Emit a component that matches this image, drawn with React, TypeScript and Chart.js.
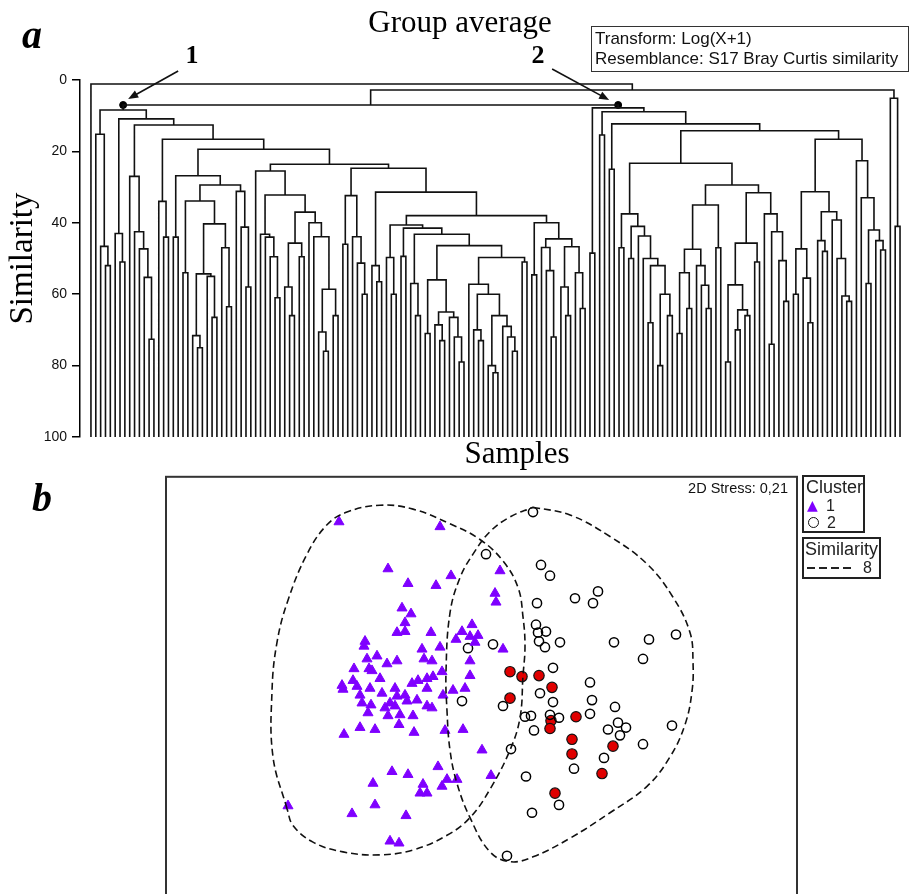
import React, { useEffect, useRef } from 'react';
import { Chart, registerables } from 'chart.js';

Chart.register(...registerables);

const SERIF = '"Liberation Serif", "Times New Roman", serif';
const SANS = '"Liberation Sans", Arial, sans-serif';

// ---------------- Panel a: group-average dendrogram ----------------
// Sub-trees written as (left,right)similarity ; L = one sample
const yTicks = [0, 20, 40, 60, 80, 100];

const c1P = '(L,(L,(L,L)52)46.6)15.2';
const c1R = '(L,(L,L)51)43';
const c1T = '(L,(L,(L,(L,(L,L)72.6)55.3)47.3)42.5)27';
const c1V = '(L,(L,L)44)34';
const c1X = '((L,L)44,(((L,L)54,(((L,(L,L)75)71.6,(L,(L,L)66.5)55)54.3,(L,(L,L)63.5)47)40.3)33.9,(L,(L,(L,L)58)41.2)31.2)29.4)26.8';
const c1Y = '(L,((L,(L,(L,(L,L)61)49.5)44)43.2,(((L,(L,L)66)58,(L,L)49.5)45.7,(L,(L,((L,(L,L)76)70.6,(L,L)66)58.6)43.9)40)37)32.2)25.5';
const c1Z = '((L,L)46,(L,(L,(L,L)60)51.3)43.9)32.4';
const c1Z2a = '(L,(L,L)56.5)52';
const c1N56 = '((L,L)71,((L,(L,L)73)68.6,(L,(L,(L,L)79)72)66.5)65)56';
const c1N57 = '(L,((L,(L,L)73)70,((L,(L,L)82)80,(L,(L,(L,L)76)72)69)66)60)57.2';
const c1N40 = '((L,L)54.6,((L,(L,(L,L)72)53.4)46.9,((L,(L,L)66)58,(L,(L,L)64)54)46.7)44.5)40';

const c2A = '(L,L)48.5';
const c2B = '(L,L)15.4';
const c2C = '(L,L)25';
const c2D = '((L,L)47,((L,L)50,(L,(L,((L,L)68,((L,L)80,(L,L)66)60)52)50)43.7)41)37.5';
const c2E = '((((L,L)71,(L,L)64)54,(L,(L,(L,L)64)57.5)52)47.4,(L,L)47)35';
const c2F = '((((L,L)79,((L,L)70,(L,L)66)64.4)57.4,(L,L)51)45.7,(L,((L,L)74,(L,(L,L)62)50.6)42.5)37.5)31.6';
const c2G = '(((L,L)60,(L,(L,L)68)55.5)47.3,((L,(L,L)48)45,(L,(L,(L,(L,L)62)60.5)50)39.2)36.9)31.3';
const c2H = '(L,(L,((L,L)57,(L,(L,L)47.6)45)42)33)22.6';

const outlierRight = '(L,(L,L)41)5.1';

const c1Z2 = `(${c1Z2a},(((L,(L,L)60)49.7,((L,L)49.4,((L,(L,L)66)57,(${c1N56},(${c1N57},(L,L)51)49.7)46.4)43.2)41.5)40.6,${c1N40})38)31.4`;
const cluster1 = `(${c1P},(${c1R},(${c1T},(${c1V},(${c1X},(${c1Y},(${c1Z},${c1Z2})24.7)23.6)19.4)16.6)12.6)10.9)8.4`;
const cluster2 = `(${c2A},(${c2B},(${c2C},((${c2D},(${c2E},${c2F})29.4)23.3,(${c2G},${c2H})16.6)14.2)12.3)8.9)7.8`;
const fullTree = `(L,((${cluster1},${cluster2})7,${outlierRight})2.8)1.1`;

type TNode = { x: number; h: number; l?: TNode; r?: TNode };

function buildTree(src: string) {
  let i = 0;
  let leaf = 0;
  const segs: { x: number; y: number | null }[] = [];
  const parse = (): TNode => {
    if (src[i] === 'L') {
      i++;
      return { x: leaf++, h: 100 };
    }
    i++; // (
    const l = parse();
    i++; // ,
    const r = parse();
    i++; // )
    let j = i;
    while (j < src.length && /[0-9.]/.test(src[j])) j++;
    const h = parseFloat(src.slice(i, j));
    i = j;
    segs.push({ x: l.x, y: l.h }, { x: l.x, y: h }, { x: r.x, y: h }, { x: r.x, y: r.h }, { x: r.x, y: null });
    return { x: (l.x + r.x) / 2, h, l, r };
  };
  const root = parse();
  return { root, segs, leaves: leaf };
}

// ---------------- Panel b: nMDS ordination ----------------
const cluster1Points: [number, number][] = [
  [-1.41, 1.80], [-0.40, 1.75], [-0.92, 1.32], [-0.72, 1.17], [-0.44, 1.15], [-0.29, 1.25],
  [0.20, 1.30], [0.15, 1.07], [0.16, 0.98], [-0.78, 0.92], [-0.69, 0.86], [-0.75, 0.77],
  [-0.83, 0.67], [-0.75, 0.68], [-0.49, 0.67], [-0.18, 0.68], [-0.08, 0.75], [-0.24, 0.60],
  [-0.10, 0.63], [-0.02, 0.64], [-0.05, 0.57], [-1.15, 0.58], [-1.16, 0.53], [-0.58, 0.50],
  [-0.40, 0.52], [0.23, 0.50], [-1.03, 0.43], [-1.13, 0.40], [-1.26, 0.30], [-1.11, 0.30],
  [-0.93, 0.35], [-0.83, 0.38], [-0.56, 0.40], [-0.48, 0.38], [-0.10, 0.38], [-0.38, 0.27],
  [-1.08, 0.28], [-1.00, 0.20], [-1.27, 0.18], [-1.38, 0.13], [-1.37, 0.09], [-1.23, 0.12],
  [-1.10, 0.10], [-1.20, 0.03], [-0.85, 0.10], [-0.68, 0.15], [-0.62, 0.18], [-0.53, 0.20],
  [-0.47, 0.22], [-0.53, 0.10], [-0.10, 0.23], [-0.27, 0.08], [-0.15, 0.10], [-0.37, 0.03],
  [-0.98, 0.05], [-0.83, 0.02], [-0.73, -0.03], [-0.63, -0.02], [-0.53, -0.08], [-0.48, -0.10],
  [-1.18, -0.05], [-1.09, -0.07], [-1.12, -0.15], [-0.90, -0.05], [-0.85, -0.08], [-0.92, -0.18],
  [-0.95, -0.10], [-0.80, -0.17], [-0.81, -0.27], [-0.67, -0.18], [-1.20, -0.30], [-1.05, -0.32],
  [-1.36, -0.37], [-0.66, -0.35], [-0.35, -0.33], [-0.17, -0.32], [0.02, -0.53], [-0.42, -0.70],
  [-0.88, -0.75], [-0.72, -0.78], [-1.07, -0.87], [-0.57, -0.88], [-0.60, -0.97], [-0.53, -0.97],
  [-0.38, -0.90], [-0.33, -0.83], [-0.23, -0.83], [0.11, -0.79], [-1.92, -1.10], [-1.28, -1.18],
  [-1.05, -1.09], [-0.74, -1.20], [-0.90, -1.46], [-0.81, -1.48], [-0.75, 0.03],
];

const cluster2Points: [number, number][] = [
  [0.53, 1.90], [0.06, 1.47], [0.61, 1.36], [0.70, 1.25], [0.95, 1.02], [1.18, 1.09],
  [1.13, 0.97], [0.57, 0.97], [0.56, 0.75], [0.58, 0.67], [0.66, 0.68], [0.59, 0.58],
  [0.65, 0.52], [0.80, 0.57], [1.34, 0.57], [1.69, 0.60], [1.96, 0.65], [1.63, 0.40],
  [0.13, 0.55], [-0.12, 0.51], [0.73, 0.31], [1.10, 0.16], [0.60, 0.05], [0.73, -0.04],
  [1.12, -0.02], [-0.18, -0.03], [0.23, -0.08], [1.35, -0.09], [0.45, -0.19], [0.51, -0.18],
  [0.70, -0.17], [0.79, -0.20], [1.10, -0.16], [0.54, -0.33], [1.28, -0.32], [1.38, -0.25],
  [1.46, -0.30], [1.40, -0.38], [1.92, -0.28], [1.63, -0.47], [0.31, -0.52], [1.24, -0.61],
  [0.94, -0.72], [0.46, -0.80], [0.79, -1.09], [0.52, -1.17], [0.27, -1.61],
];

const highlightedPoints: [number, number][] = [
  [0.30, 0.27], [0.42, 0.22], [0.59, 0.23], [0.72, 0.11], [0.30, 0.00], [0.71, -0.23],
  [0.70, -0.31], [0.96, -0.19], [0.92, -0.42], [0.92, -0.57], [1.33, -0.49], [1.22, -0.77],
  [0.75, -0.97],
];

const contour1: [number, number][] = [
  [-1.93, -1.13], [-2.07, -0.60], [-2.08, 0.07], [-2.03, 0.57], [-1.92, 1.00], [-1.73, 1.47],
  [-1.53, 1.77], [-1.33, 1.90], [-1.00, 1.97], [-0.67, 1.93], [-0.30, 1.78], [0.00, 1.62],
  [0.23, 1.40], [0.38, 1.13], [0.43, 0.83], [0.45, 0.53], [0.43, 0.23], [0.40, -0.20],
  [0.30, -0.53], [0.10, -0.93], [-0.10, -1.22], [-0.33, -1.40], [-0.67, -1.55], [-1.00, -1.60],
  [-1.37, -1.57], [-1.67, -1.47], [-1.87, -1.30],
];

const contour2: [number, number][] = [
  [0.53, 1.95], [0.90, 1.87], [1.30, 1.65], [1.67, 1.37], [1.93, 1.03], [2.10, 0.67],
  [2.13, 0.37], [2.12, 0.07], [2.05, -0.27], [1.90, -0.60], [1.67, -0.90], [1.30, -1.17],
  [0.90, -1.43], [0.53, -1.62], [0.30, -1.67], [0.10, -1.57], [-0.10, -1.22], [-0.23, -0.87],
  [-0.30, -0.53], [-0.33, -0.13], [-0.34, 0.27], [-0.30, 0.87], [-0.20, 1.23], [-0.07, 1.47],
  [0.10, 1.70], [0.30, 1.85],
];

const toXY = (a: [number, number][]) => a.map(([x, y]) => ({ x, y }));
const closed = (a: [number, number][]) => toXY([...a, a[0]]);

const arrowOffsets = [
  [55, -34, 5, -6],
  [-66, -36, -9, -5],
];

const arrowPlugin = {
  id: 'clusterArrows',
  afterDatasetsDraw(chart: any) {
    const meta = chart.getDatasetMeta(1);
    const ctx = chart.ctx;
    ctx.save();
    ctx.strokeStyle = '#111';
    ctx.fillStyle = '#111';
    ctx.lineWidth = 1.6;
    arrowOffsets.forEach((o, k) => {
      const p = meta.data[k];
      if (!p) return;
      const x1 = p.x + o[0], y1 = p.y + o[1], x2 = p.x + o[2], y2 = p.y + o[3];
      const ang = Math.atan2(y2 - y1, x2 - x1);
      const c = Math.cos(ang), s = Math.sin(ang);
      ctx.beginPath();
      ctx.moveTo(x1, y1);
      ctx.lineTo(x2 - 6 * c, y2 - 6 * s);
      ctx.stroke();
      ctx.beginPath();
      ctx.moveTo(x2, y2);
      ctx.lineTo(x2 - 10 * c + 4 * s, y2 - 10 * s - 4 * c);
      ctx.lineTo(x2 - 10 * c - 4 * s, y2 - 10 * s + 4 * c);
      ctx.closePath();
      ctx.fill();
    });
    ctx.restore();
  },
};

const framePlugin = {
  id: 'plotFrame',
  afterDatasetsDraw(chart: any) {
    const { ctx, chartArea: a } = chart;
    ctx.save();
    ctx.strokeStyle = '#333';
    ctx.lineWidth = 2;
    ctx.strokeRect(a.left, a.top, a.right - a.left, a.bottom - a.top);
    ctx.restore();
  },
};

const abs = (s: React.CSSProperties): React.CSSProperties => ({ position: 'absolute', whiteSpace: 'nowrap', ...s });

export default function App() {
  const refA = useRef<HTMLCanvasElement>(null);
  const refB = useRef<HTMLCanvasElement>(null);

  useEffect(() => {
    const tree = buildTree(fullTree);
    const nodeB = tree.root.r!.l!;
    const dots = [
      { x: nodeB.l!.x, y: nodeB.h },
      { x: nodeB.r!.x, y: nodeB.h },
    ];
    const chartA = new Chart(refA.current!, {
      type: 'scatter',
      data: {
        datasets: [
          {
            data: tree.segs as any,
            showLine: true,
            spanGaps: false,
            borderColor: '#111',
            borderWidth: 1.6,
            pointRadius: 0,
            pointHoverRadius: 0,
          },
          {
            data: dots,
            pointRadius: 3.5,
            backgroundColor: '#000',
            borderColor: '#000',
          },
        ],
      },
      options: {
        animation: false,
        responsive: false,
        devicePixelRatio: 1,
        events: [],
        layout: { padding: { top: 80, bottom: 33, left: 0, right: 2 } },
        plugins: { legend: { display: false }, tooltip: { enabled: false } },
        scales: {
          x: { type: 'linear', display: false, min: -2.26, max: tree.leaves - 1 + 1.44 },
          y: {
            type: 'linear',
            min: 0,
            max: 100,
            reverse: true,
            afterFit: (s: any) => {
              s.width = 80;
            },
            afterBuildTicks: (s: any) => {
              s.ticks = yTicks.map((v) => ({ value: v }));
            },
            ticks: { font: { family: SANS, size: 14 }, color: '#111', padding: 5 },
            grid: { drawOnChartArea: false, drawTicks: true, tickLength: 8, color: '#000', lineWidth: 1.5 },
            border: { display: true, color: '#000', width: 1.5 },
            title: {
              display: true,
              text: 'Similarity',
              color: '#000',
              font: { family: SERIF, size: 33 },
              padding: { top: 4, bottom: 0 },
            },
          },
        },
      } as any,
      plugins: [arrowPlugin],
    });

    const chartB = new Chart(refB.current!, {
      type: 'scatter',
      data: {
        datasets: [
          {
            data: closed(contour1),
            showLine: true,
            tension: 0.4,
            borderColor: '#111',
            borderWidth: 1.6,
            borderDash: [7, 4],
            pointRadius: 0,
          },
          {
            data: closed(contour2),
            showLine: true,
            tension: 0.4,
            borderColor: '#111',
            borderWidth: 1.6,
            borderDash: [7, 4],
            pointRadius: 0,
          },
          {
            data: toXY(cluster1Points),
            pointStyle: 'triangle',
            pointRadius: 5.8,
            backgroundColor: '#7f00ff',
            borderColor: '#7f00ff',
            borderWidth: 1,
          },
          {
            data: toXY(cluster2Points),
            pointStyle: 'circle',
            pointRadius: 4.6,
            backgroundColor: 'rgba(255,255,255,0)',
            borderColor: '#000',
            borderWidth: 1.5,
          },
          {
            data: toXY(highlightedPoints),
            pointStyle: 'circle',
            pointRadius: 5.2,
            backgroundColor: '#e00000',
            borderColor: '#111',
            borderWidth: 1.2,
          },
        ],
      },
      options: {
        animation: false,
        responsive: false,
        devicePixelRatio: 1,
        events: [],
        layout: { padding: { top: 4, bottom: 0, left: 166, right: 115 } },
        plugins: { legend: { display: false }, tooltip: { enabled: false } },
        scales: {
          x: { type: 'linear', display: false, min: -3.14, max: 3.17 },
          y: { type: 'linear', display: false, min: -2.4, max: 2.26 },
        },
      } as any,
      plugins: [framePlugin],
    });

    return () => {
      chartA.destroy();
      chartB.destroy();
    };
  }, []);

  return (
    <div style={{ position: 'absolute', left: 0, top: 0, width: 912, height: 894, overflow: 'hidden', background: '#fff' }}>
      <canvas ref={refA} width={912} height={470} style={{ position: 'absolute', left: 0, top: 0 }} />
      <canvas ref={refB} width={912} height={470} style={{ position: 'absolute', left: 0, top: 470 }} />

      <div style={abs({ left: 22, top: 15, fontFamily: SERIF, fontSize: 40, lineHeight: '40px', fontWeight: 'bold', fontStyle: 'italic' })}>a</div>
      <div style={abs({ left: 310, top: 6, width: 300, textAlign: 'center', fontFamily: SERIF, fontSize: 31, lineHeight: '31px' })}>
        Group average
      </div>
      <div style={abs({ left: 177, top: 42, width: 30, textAlign: 'center', fontFamily: SERIF, fontSize: 26, lineHeight: '26px', fontWeight: 'bold' })}>1</div>
      <div style={abs({ left: 523, top: 42, width: 30, textAlign: 'center', fontFamily: SERIF, fontSize: 26, lineHeight: '26px', fontWeight: 'bold' })}>2</div>
      <div
        style={abs({
          left: 591,
          top: 26,
          width: 318,
          height: 46,
          boxSizing: 'border-box',
          border: '1.5px solid #333',
          background: '#fff',
          fontFamily: SANS,
          fontSize: 17,
          lineHeight: '20px',
          padding: '2px 0 0 3px',
          color: '#111',
        })}
      >
        <div>Transform: Log(X+1)</div>
        <div>Resemblance: S17 Bray Curtis similarity</div>
      </div>
      <div style={abs({ left: 417, top: 437, width: 200, textAlign: 'center', fontFamily: SERIF, fontSize: 31, lineHeight: '31px' })}>
        Samples
      </div>

      <div style={abs({ left: 32, top: 478, fontFamily: SERIF, fontSize: 40, lineHeight: '40px', fontWeight: 'bold', fontStyle: 'italic' })}>b</div>
      <div style={abs({ left: 640, top: 480, width: 148, textAlign: 'right', fontFamily: SANS, fontSize: 14.5, lineHeight: '16px', color: '#111' })}>
        2D Stress: 0,21
      </div>
      <div
        style={abs({
          left: 802,
          top: 475,
          width: 63,
          height: 58,
          boxSizing: 'border-box',
          border: '2px solid #222',
          fontFamily: SANS,
          color: '#222',
        })}
      >
        <div style={{ fontSize: 18, lineHeight: '20px', paddingLeft: 2 }}>Cluster</div>
        <div style={{ fontSize: 16, lineHeight: '17px', height: 17, paddingLeft: 3, display: 'flex', alignItems: 'center' }}>
          <span style={{ color: '#7f00ff', fontFamily: '"DejaVu Sans", sans-serif', fontSize: 14, width: 15 }}>▲</span>
          <span style={{ marginLeft: 4 }}>1</span>
        </div>
        <div style={{ fontSize: 16, lineHeight: '17px', height: 17, paddingLeft: 3, display: 'flex', alignItems: 'center' }}>
          <span
            style={{
              display: 'inline-block',
              width: 9,
              height: 9,
              borderRadius: '50%',
              border: '1.5px solid #111',
              marginLeft: 1,
              marginRight: 4,
            }}
          />
          <span style={{ marginLeft: 4 }}>2</span>
        </div>
      </div>
      <div
        style={abs({
          left: 802,
          top: 537,
          width: 79,
          height: 42,
          boxSizing: 'border-box',
          border: '2px solid #222',
          fontFamily: SANS,
          color: '#222',
        })}
      >
        <div style={{ fontSize: 18, lineHeight: '20px', paddingLeft: 1 }}>Similarity</div>
        <div style={{ fontSize: 16, lineHeight: '18px', paddingLeft: 3, display: 'flex', alignItems: 'center' }}>
          <span
            style={{
              display: 'inline-block',
              width: 46,
              height: 2,
              background: 'repeating-linear-gradient(to right, #222 0 8px, transparent 8px 12px)',
            }}
          />
          <span style={{ marginLeft: 10 }}>8</span>
        </div>
      </div>
    </div>
  );
}
